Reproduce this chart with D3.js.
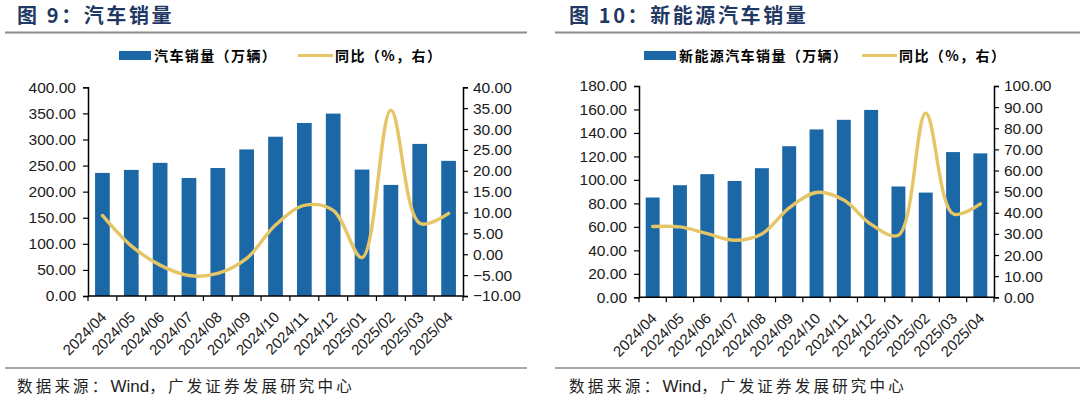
<!DOCTYPE html>
<html>
<head>
<meta charset="utf-8">
<script src="https://cdn.jsdelivr.net/npm/d3@7"></script>
<style>
  html, body { margin: 0; padding: 0; background: #fff; }
  svg { display: block; }
  .tick text { font-family: "Liberation Sans", Arial, sans-serif; }
</style>
</head>
<body>
<svg id="chart" width="1080" height="399"></svg>
<script>
// --- Data ---
const months = ["2024/04", "2024/05", "2024/06", "2024/07", "2024/08", "2024/09", "2024/10",
                "2024/11", "2024/12", "2025/01", "2025/02", "2025/03", "2025/04"];

// 图 9: 汽车销量 (万辆) and 同比 (%)
const autoSales = [235.9, 241.7, 255.2, 226.2, 245.3, 280.9, 305.3, 331.6, 349.6, 242.3, 212.9, 291.5, 259.0];
const autoYoY   = [9.3, 2.0, -2.6, -5.1, -4.6, -1.0, 7.0, 11.7, 10.5, -0.8, 34.5, 7.4, 9.8];

// 图 10: 新能源汽车销量 (万辆) and 同比 (%)
const nevSales = [85.0, 95.5, 104.9, 99.1, 110.0, 128.7, 143.0, 151.2, 159.6, 94.4, 89.2, 123.7, 122.6];
const nevYoY   = [33.5, 33.3, 30.1, 27.0, 30.0, 42.3, 49.6, 46.0, 34.5, 29.4, 87.1, 39.5, 44.2];

const leftTicks1  = [0, 50, 100, 150, 200, 250, 300, 350, 400];
const rightTicks1 = [-10, -5, 0, 5, 10, 15, 20, 25, 30, 35, 40];
const leftTicks2  = [0, 20, 40, 60, 80, 100, 120, 140, 160, 180];
const rightTicks2 = [0, 10, 20, 30, 40, 50, 60, 70, 80, 90, 100];

const BAR_COLOR = "#1c68a6";
const LINE_COLOR = "#e5c566";
const TITLE_COLOR = "#1f3864";
const RULE_COLOR = "#8c8c8c";
const CJK = '"Noto Sans CJK SC", "Noto Sans", sans-serif';
const LATIN = '"Liberation Sans", Arial, sans-serif';

const svg = d3.select("#chart");

function drawPanel(p) {
  const g = svg.append("g");

  // title + rules
  g.append("text")
    .attr("x", p.titleX).attr("y", 23)
    .attr("fill", TITLE_COLOR)
    .style("font-family", CJK).style("font-weight", 700)
    .style("font-size", "20px").style("letter-spacing", "2.6px")
    .text(p.title);
  g.append("line")
    .attr("x1", p.ruleX0).attr("x2", p.ruleX1).attr("y1", 32.5).attr("y2", 32.5)
    .attr("stroke", RULE_COLOR).attr("stroke-width", 2);
  g.append("line")
    .attr("x1", p.ruleX0).attr("x2", p.ruleX1).attr("y1", 368).attr("y2", 368)
    .attr("stroke", RULE_COLOR).attr("stroke-width", 1.5);
  const src = g.append("text")
    .attr("x", p.titleX).attr("y", 392)
    .attr("fill", "#222")
    .style("font-family", CJK).style("font-size", "15.5px");
  src.append("tspan").style("letter-spacing", "3.2px").text("数据来源：");
  src.append("tspan").style("font-family", LATIN).style("font-size", "17px").text("Wind");
  src.append("tspan").style("letter-spacing", "3.2px").text("，广发证券发展研究中心");

  // legend
  const lg = g.append("g").style("font-family", CJK).style("font-weight", 700).style("font-size", "14px");
  lg.append("rect").attr("x", p.legBar).attr("y", 51).attr("width", 32).attr("height", 9).attr("fill", BAR_COLOR);
  lg.append("text").attr("x", p.legBar + 35).attr("y", 60.5).style("letter-spacing", "1.4px").text(p.barLabel);
  lg.append("line").attr("x1", p.legLine).attr("x2", p.legLine + 35).attr("y1", 55.5).attr("y2", 55.5)
    .attr("stroke", LINE_COLOR).attr("stroke-width", 3.2);
  lg.append("text").attr("x", p.legLine + 37).attr("y", 60.5).style("letter-spacing", "1.4px").text("同比（%，右）");

  // scales
  const x = d3.scaleBand().domain(months).range([p.x0, p.x1]).paddingInner(0.49).paddingOuter(0.245);
  const xb = d3.scaleBand().domain(months).range([p.x0, p.x1]);
  const yL = d3.scaleLinear().domain(p.leftDomain).range([p.yBottom, p.yTop]);
  const yR = d3.scaleLinear().domain(p.rightDomain).range([p.yBottom, p.yTop]);

  // bars
  g.selectAll(".bar").data(p.sales).enter().append("rect")
    .attr("x", (d, i) => x(months[i]))
    .attr("y", d => yL(d))
    .attr("width", x.bandwidth())
    .attr("height", d => yL(p.leftDomain[0]) - yL(d))
    .attr("fill", BAR_COLOR);

  // line
  const line = d3.line()
    .x((d, i) => xb(months[i]) + xb.bandwidth() / 2)
    .y(d => yR(d))
    .curve(d3.curveCatmullRom.alpha(0.5));
  g.append("path").datum(p.yoy)
    .attr("d", line).attr("fill", "none")
    .attr("stroke", LINE_COLOR).attr("stroke-width", 3.4)
    .attr("stroke-linecap", "round");

  // axes
  const fmt = d3.format(".2f");
  const axL = g.append("g").attr("transform", `translate(${p.x0},0)`)
    .call(d3.axisLeft(yL).tickValues(p.leftTicks).tickFormat(fmt).tickSize(5).tickPadding(7));
  const axR = g.append("g").attr("transform", `translate(${p.x1},0)`)
    .call(d3.axisRight(yR).tickValues(p.rightTicks).tickFormat(fmt).tickSize(5).tickPadding(5));
  [axL, axR].forEach(a => {
    a.select(".domain").attr("stroke", "#000").attr("stroke-width", 1.5);
    a.selectAll(".tick line").attr("stroke", "#000").attr("stroke-width", 1.2);
    a.selectAll(".tick text").attr("fill", "#1a1a1a").style("font-size", "15.5px");
  });

  const axB = g.append("g").attr("transform", `translate(0,${p.yBottom})`);
  axB.append("line").attr("x1", p.x0).attr("x2", p.x1).attr("stroke", "#000").attr("stroke-width", 1.5);
  axB.selectAll(".btick").data(months.concat(["end"])).enter().append("line")
    .attr("x1", (d, i) => i < months.length ? xb(d) : p.x1)
    .attr("x2", (d, i) => i < months.length ? xb(d) : p.x1)
    .attr("y1", 0).attr("y2", 5)
    .attr("stroke", "#000").attr("stroke-width", 1.2);
  axB.selectAll(".blabel").data(months).enter().append("text")
    .attr("transform", d => `translate(${xb(d) + xb.bandwidth() / 2 + 5},${22}) rotate(-45)`)
    .attr("text-anchor", "end")
    .attr("fill", "#1a1a1a")
    .style("font-family", LATIN).style("font-size", "15px")
    .text(d => d);
}

drawPanel({
  title: "图 9：汽车销量", titleX: 17, ruleX0: 5, ruleX1: 527,
  legBar: 119, legLine: 298, barLabel: "汽车销量（万辆）",
  x0: 88, x1: 463, yTop: 87.3, yBottom: 296,
  leftDomain: [0, 400], rightDomain: [-10, 40],
  leftTicks: leftTicks1, rightTicks: rightTicks1,
  sales: autoSales, yoy: autoYoY
});

drawPanel({
  title: "图 10：新能源汽车销量", titleX: 569, ruleX0: 555, ruleX1: 1080,
  legBar: 644, legLine: 862, barLabel: "新能源汽车销量（万辆）",
  x0: 639, x1: 994, yTop: 86, yBottom: 297.3,
  leftDomain: [0, 180], rightDomain: [0, 100],
  leftTicks: leftTicks2, rightTicks: rightTicks2,
  sales: nevSales, yoy: nevYoY
});
</script>
</body>
</html>
